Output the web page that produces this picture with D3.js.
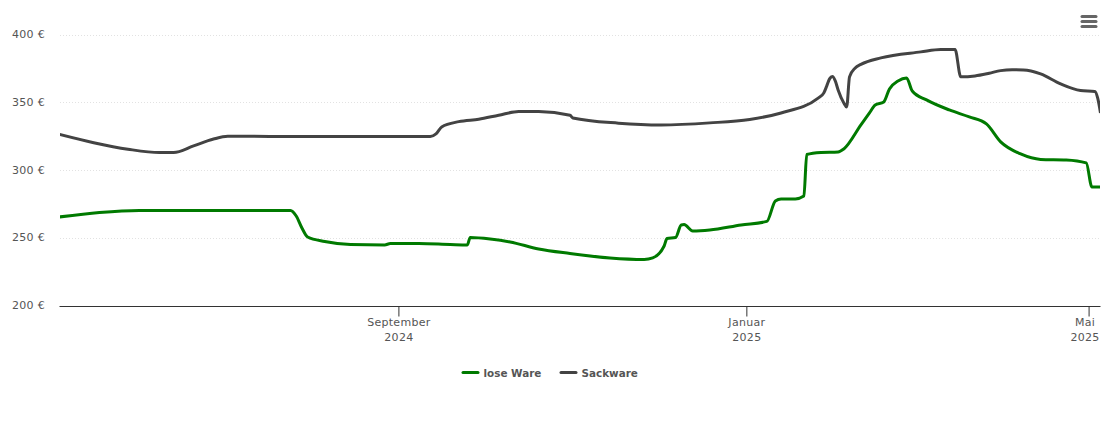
<!DOCTYPE html>
<html>
<head>
<meta charset="utf-8">
<script src="https://cdn.jsdelivr.net/npm/d3@7"></script>
<style>
body { margin: 0; background: #fff; }
text { font-family: "DejaVu Sans", sans-serif; }
</style>
</head>
<body>
<div id="chart"></div>
<script>
var width = 1110;
var height = 423;

var yTicks = [200, 250, 300, 350, 400];
var xTickDates = ["2024-09-01", "2025-01-01", "2025-05-01"];
var xTickMonths = ["September", "Januar", "Mai"];
var xTickYears = ["2024", "2025", "2025"];
var xDomain = ["2024-05-05", "2025-05-05"];

var looseDates = ["2024-05-05", "2024-05-19", "2024-06-02", "2024-06-23", "2024-07-25", "2024-07-27", "2024-07-29", "2024-07-31", "2024-08-06", "2024-08-15", "2024-08-27", "2024-08-29", "2024-09-08", "2024-09-19", "2024-09-25", "2024-09-26", "2024-10-03", "2024-10-10", "2024-10-20", "2024-10-31", "2024-11-14", "2024-11-26", "2024-11-29", "2024-12-03", "2024-12-04", "2024-12-07", "2024-12-09", "2024-12-10", "2024-12-13", "2024-12-19", "2024-12-30", "2025-01-08", "2025-01-11", "2025-01-13", "2025-01-18", "2025-01-21", "2025-01-22", "2025-01-27", "2025-02-02", "2025-02-04", "2025-02-10", "2025-02-13", "2025-02-15", "2025-02-18", "2025-02-20", "2025-02-23", "2025-02-26", "2025-02-28", "2025-03-05", "2025-03-13", "2025-03-20", "2025-03-26", "2025-03-31", "2025-04-07", "2025-04-14", "2025-04-23", "2025-04-30", "2025-05-02", "2025-05-05"];
var looseValues = [265.6, 268.9, 270.4, 270.4, 270.4, 266.3, 257.5, 250.8, 247.5, 245.3, 245, 246, 246, 245.3, 245, 250.5, 249.4, 247.2, 242, 238.7, 235.4, 234.3, 235.4, 244.2, 249.7, 250.5, 259.7, 260, 255.3, 256, 259.7, 262.3, 277.4, 278.9, 278.9, 281, 311.6, 313.1, 313.5, 315.7, 333.4, 342.2, 348.1, 350.3, 359.9, 365.8, 368, 358.4, 351.8, 344.4, 339.3, 334.1, 320.9, 312, 308, 307.6, 305.4, 287.7, 287.7];

var sackDates = ["2024-05-05", "2024-05-17", "2024-05-29", "2024-06-09", "2024-06-14", "2024-06-21", "2024-06-28", "2024-07-03", "2024-07-07", "2024-07-28", "2024-09-12", "2024-09-14", "2024-09-16", "2024-09-22", "2024-09-29", "2024-10-06", "2024-10-13", "2024-10-20", "2024-10-31", "2024-11-01", "2024-11-17", "2024-12-02", "2024-12-19", "2025-01-02", "2025-01-13", "2025-01-26", "2025-01-28", "2025-01-29", "2025-01-30", "2025-01-31", "2025-02-01", "2025-02-02", "2025-02-04", "2025-02-05", "2025-02-06", "2025-02-08", "2025-02-10", "2025-02-17", "2025-03-03", "2025-03-10", "2025-03-15", "2025-03-17", "2025-03-22", "2025-03-27", "2025-03-31", "2025-04-04", "2025-04-08", "2025-04-14", "2025-04-21", "2025-04-28", "2025-05-03", "2025-05-04", "2025-05-05"];
var sackValues = [326.4, 320.3, 315.5, 313, 313, 317.9, 323, 325, 325, 324.9, 324.9, 326.8, 331.9, 335.8, 337.6, 340.5, 343.2, 343.2, 340.5, 338.5, 334.7, 333.4, 334.9, 337.4, 342.2, 353.1, 357, 362, 367.3, 369, 365.8, 359.2, 349.6, 346.6, 368.8, 375.4, 378, 382.8, 387.2, 389, 389, 368.8, 369.5, 371.5, 373.4, 374, 373.9, 371, 363.6, 358.7, 358, 353.3, 342.2];

var seriesNames = ["lose Ware", "Sackware"];
var seriesColors = ["#007a00", "#434343"];

var parseDate = d3.utcParse("%Y-%m-%d");

var x = d3.scaleUtc().domain(xDomain.map(parseDate)).range([59.5, 1100.5]);
var y = d3.scaleLinear().domain([200, 400]).range([306, 34.5]);

var svg = d3.select("#chart")
    .append("svg")
    .attr("width", width)
    .attr("height", height)
    .style("display", "block");

svg.append("clipPath")
    .attr("id", "plot")
    .append("rect")
    .attr("x", 60)
    .attr("y", 0)
    .attr("width", 1040)
    .attr("height", 306);

// dotted grid lines
svg.selectAll("line.grid")
    .data(yTicks.slice(1))
    .enter().append("line")
    .attr("class", "grid")
    .attr("x1", 60)
    .attr("x2", 1100)
    .attr("y1", function (d) { return Math.round(y(d)) + 0.5; })
    .attr("y2", function (d) { return Math.round(y(d)) + 0.5; })
    .attr("stroke", "#e2e2e2")
    .attr("stroke-dasharray", "1,2");

var yAxis = svg.append("g")
    .attr("transform", "translate(45,0)")
    .call(d3.axisLeft(y).tickValues(yTicks).tickSize(0).tickPadding(0)
        .tickFormat(function (d) { return d + " €"; }));
yAxis.select(".domain").remove();
yAxis.selectAll("text")
    .attr("font-size", 11)
    .attr("fill", "#555")
    .attr("letter-spacing", "0.3px")
    .attr("dy", "0.25em");

var xAxis = svg.append("g")
    .attr("transform", "translate(0,306.5)")
    .call(d3.axisBottom(x).offset(0).tickValues(xTickDates.map(parseDate)).tickSize(10).tickSizeOuter(0).tickFormat(""));
xAxis.select(".domain").attr("stroke", "#333");
xAxis.selectAll(".tick line").attr("stroke", "#333");

xTickDates.forEach(function (d, i) {
    var tx = x(parseDate(d));
    // last label is pushed in so it stays inside the plot edge
    var anchorX = i === 2 ? 1085 : tx;
    [xTickMonths[i], xTickYears[i]].forEach(function (label, j) {
        svg.append("text")
            .attr("x", anchorX)
            .attr("y", 326 + j * 15)
            .attr("text-anchor", "middle")
            .attr("font-size", 11)
            .attr("fill", "#555")
            .attr("letter-spacing", "0.3px")
            .text(label);
    });
});

var line = d3.line()
    .x(function (d) { return x(d.date); })
    .y(function (d) { return y(d.value); })
    .curve(d3.curveMonotoneX);

function zipSeries(dates, values) {
    return dates.map(function (d, i) { return { date: parseDate(d), value: values[i] }; });
}

[zipSeries(looseDates, looseValues), zipSeries(sackDates, sackValues)].forEach(function (data, i) {
    svg.append("path")
        .datum(data)
        .attr("d", line)
        .attr("clip-path", "url(#plot)")
        .attr("fill", "none")
        .attr("stroke", seriesColors[i])
        .attr("stroke-width", 3)
        .attr("stroke-linejoin", "round");
});

// legend
var legendX = [463, 561];
seriesNames.forEach(function (name, i) {
    svg.append("line")
        .attr("x1", legendX[i])
        .attr("x2", legendX[i] + 15)
        .attr("y1", 372.5)
        .attr("y2", 372.5)
        .attr("stroke", seriesColors[i])
        .attr("stroke-width", 3)
        .attr("stroke-linecap", "round");
    svg.append("text")
        .attr("x", legendX[i] + 20.5)
        .attr("y", 377)
        .attr("font-size", 10.4)
        .attr("font-weight", "bold")
        .attr("fill", "#555")
        .text(name);
});

// menu icon
svg.selectAll("line.menu")
    .data([0, 1, 2])
    .enter().append("line")
    .attr("class", "menu")
    .attr("x1", 1082)
    .attr("x2", 1096)
    .attr("y1", function (d) { return 16.5 + d * 5; })
    .attr("y2", function (d) { return 16.5 + d * 5; })
    .attr("stroke", "#666")
    .attr("stroke-width", 3)
    .attr("stroke-linecap", "round");
</script>
</body>
</html>
